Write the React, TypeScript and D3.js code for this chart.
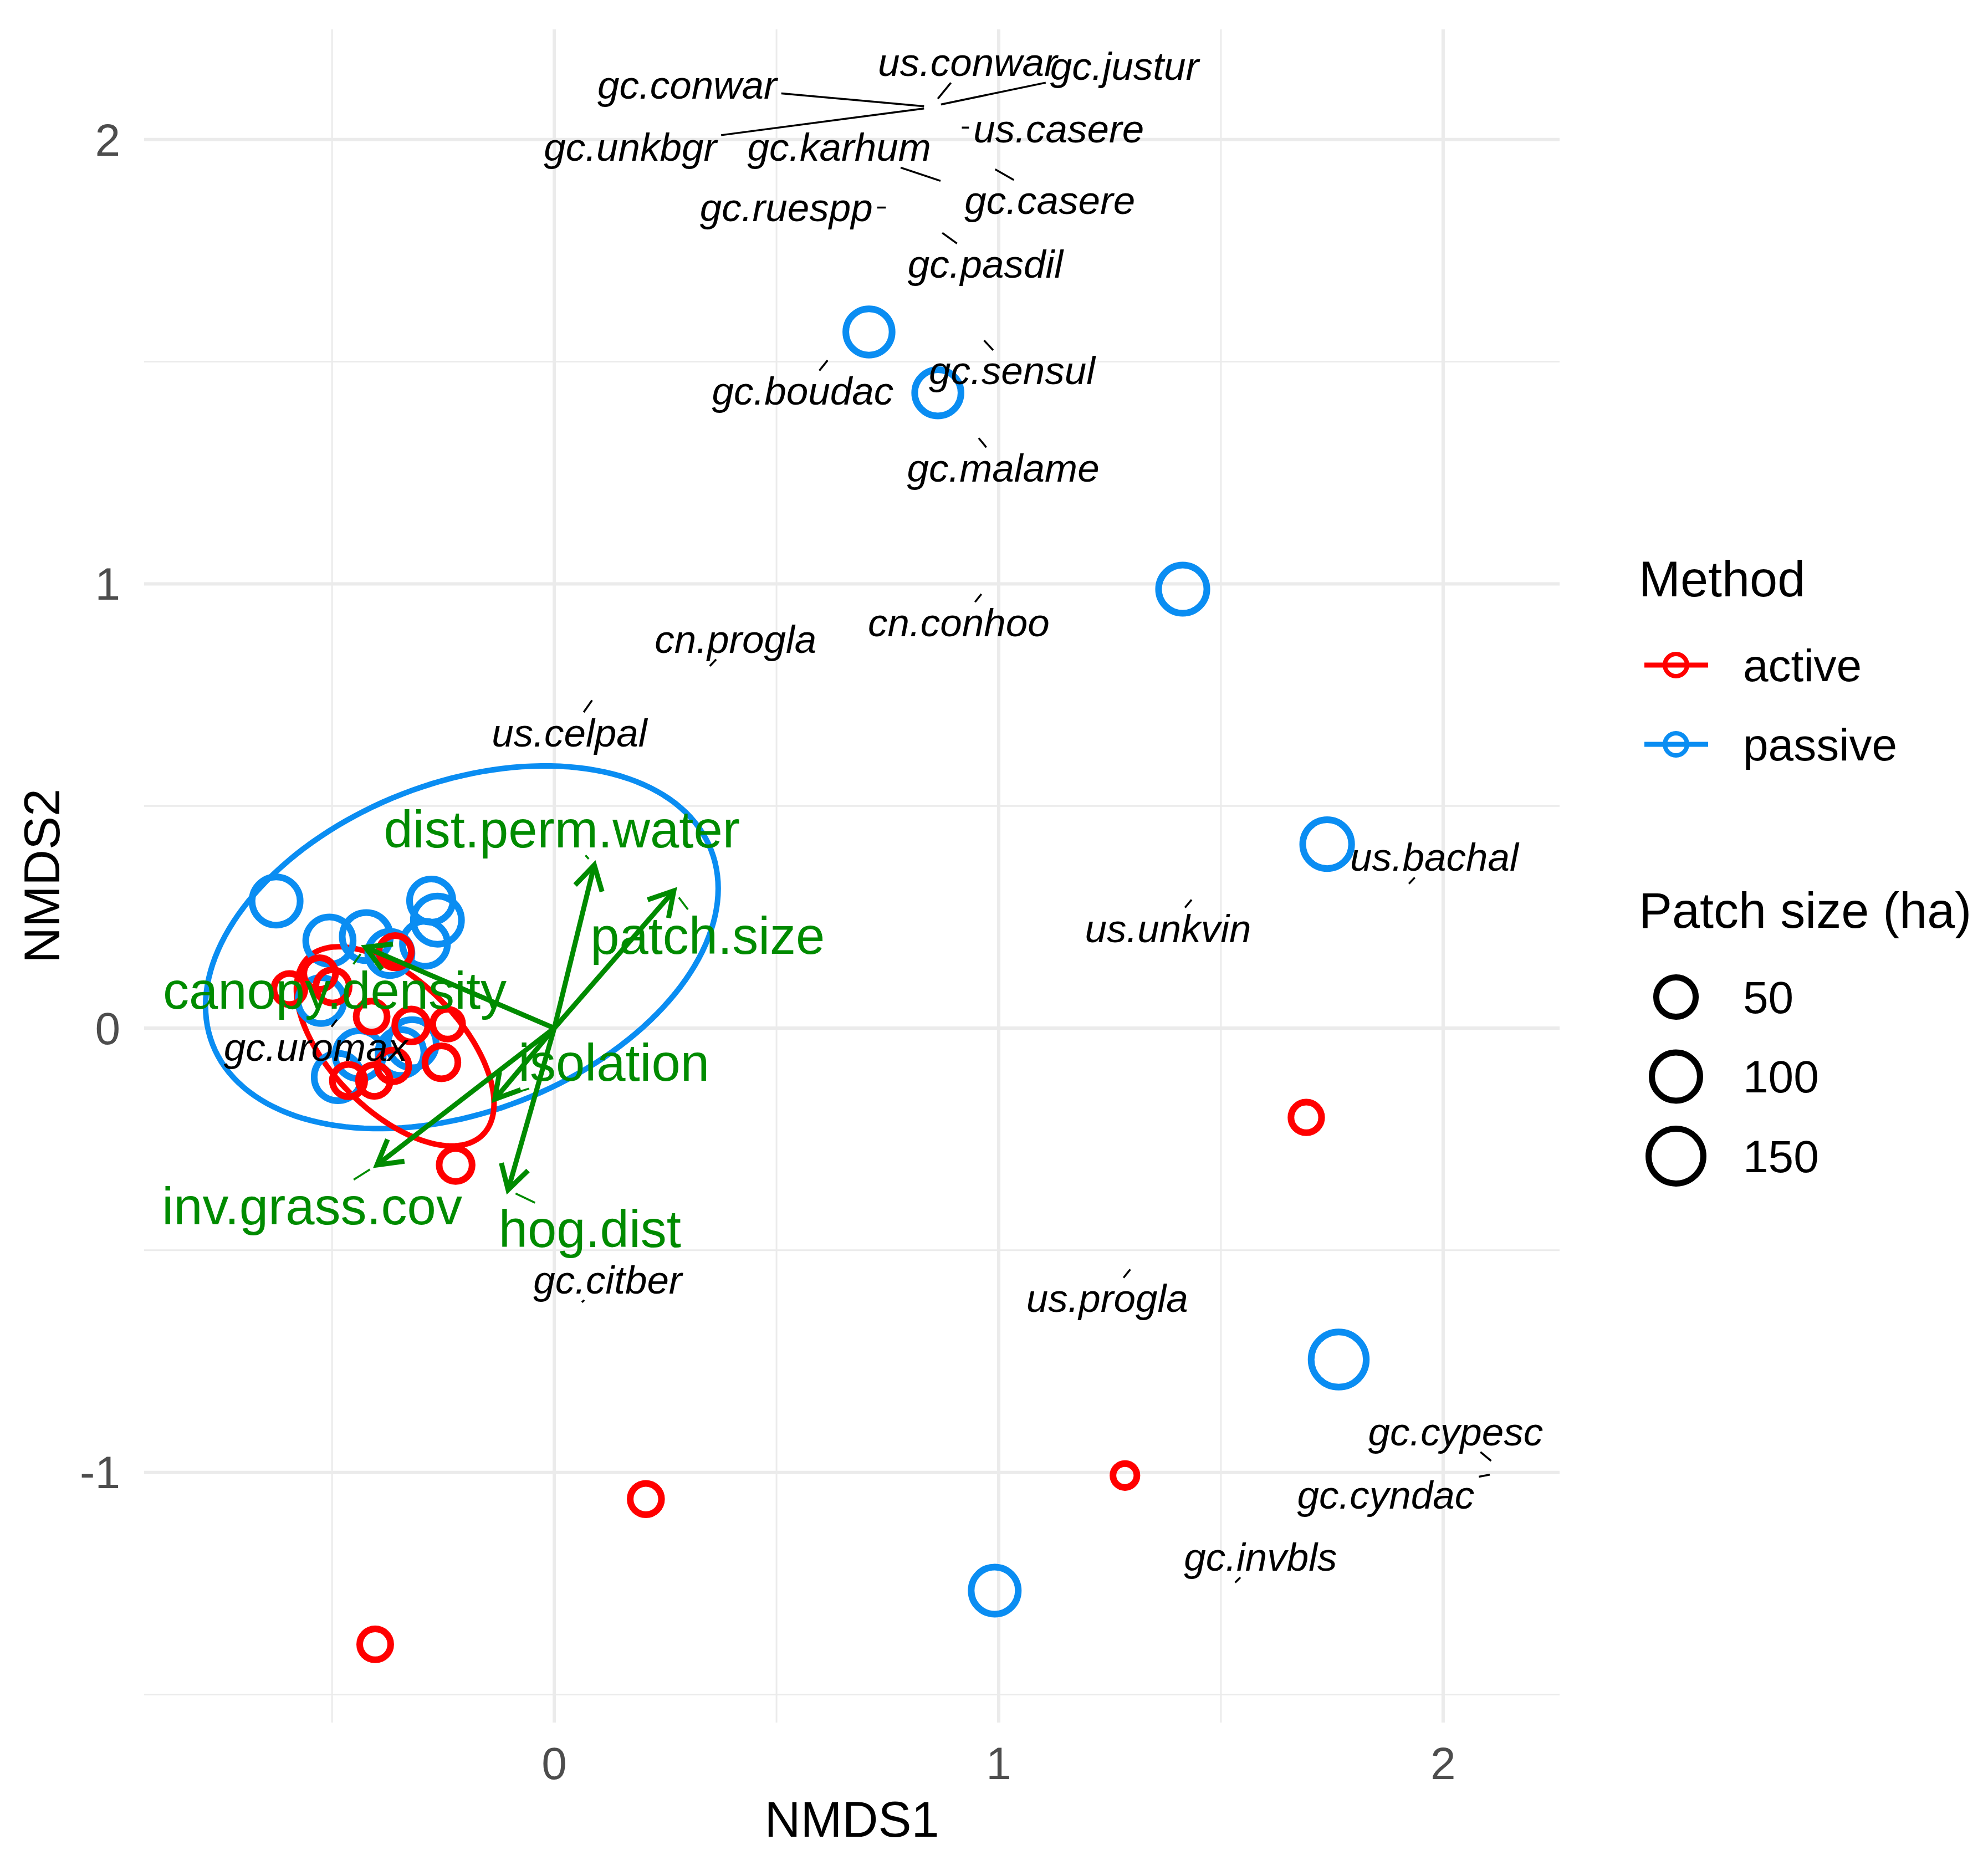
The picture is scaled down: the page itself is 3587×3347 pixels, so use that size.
import { useEffect } from 'react'
import * as d3 from 'd3'

const W = 3587
const H = 3347
const FONT = "'Liberation Sans', Arial, Helvetica, sans-serif"

// axis limits (NMDS units) and breaks
const xLimits = [-0.923, 2.262]
const yLimits = [-1.563, 2.248]
const majorBreaks = [-1, 0, 1, 2]
const minorBreaks = [-1.5, -0.5, 0.5, 1.5]

// sites, passive restoration
const passiveX = [0.708, 0.863, 1.414, 1.739, 1.765, 0.991, -0.626, -0.277, -0.263, -0.291, -0.506, -0.423, -0.370, -0.525, -0.320, -0.345, -0.439, -0.487]
const passiveY = [1.567, 1.430, 0.988, 0.414, -0.746, -1.266, 0.286, 0.287, 0.243, 0.190, 0.197, 0.206, 0.168, 0.062, -0.035, -0.055, -0.060, -0.110]
const passivePatch = [88, 88, 101, 105, 153, 93, 100, 70, 100, 80, 95, 100, 75, 85, 100, 85, 100, 95]

// sites, active restoration
const activeX = [1.692, 1.284, 0.206, -0.403, -0.222, -0.528, -0.596, -0.499, -0.358, -0.411, -0.322, -0.240, -0.254, -0.363, -0.405, -0.463]
const activeY = [-0.201, -1.007, -1.060, -1.387, -0.308, 0.123, 0.088, 0.094, 0.172, 0.026, 0.006, 0.009, -0.077, -0.085, -0.118, -0.118]
const activePatch = [17, 4, 19, 18, 24, 20, 18, 25, 22, 18, 24, 15, 24, 20, 20, 22]

// 95% ellipses per method
const ellipseMethod = ['passive', 'active']
const ellipseCx = [-0.208, -0.358]
const ellipseCy = [0.182, -0.041]
const ellipseA = [0.602, 0.280]
const ellipseB = [0.370, 0.146]
const ellipseAngle = [21.3, -45.4]

// species scores and repelled label positions
const speciesNames = ['us.conwar', 'gc.justur', 'gc.conwar', 'us.casere', 'gc.unkbgr', 'gc.karhum', 'gc.ruespp', 'gc.casere', 'gc.pasdil', 'gc.boudac', 'gc.sensul', 'gc.malame', 'cn.conhoo', 'cn.progla', 'us.celpal', 'us.bachal', 'us.unkvin', 'gc.uromax', 'gc.citber', 'us.progla', 'gc.cypesc', 'gc.cyndac', 'gc.invbls']
const speciesX = [0.863, 0.870, 0.832, 0.917, 0.832, 0.869, 0.746, 0.992, 0.873, 0.615, 0.967, 0.955, 0.961, 0.350, 0.085, 1.923, 1.434, -0.489, 0.062, 1.296, 2.108, 2.105, 1.532]
const speciesY = [2.092, 2.079, 2.075, 2.027, 2.070, 1.907, 1.847, 1.933, 1.790, 1.503, 1.548, 1.328, 0.977, 0.815, 0.738, 0.325, 0.289, 0.019, -0.617, -0.543, -0.974, -1.005, -1.248]
const speciesLabelX = [0.930, 1.283, 0.299, 1.135, 0.171, 0.641, 0.522, 1.115, 0.970, 0.559, 1.030, 1.010, 0.910, 0.408, 0.034, 1.980, 1.381, -0.537, 0.120, 1.244, 2.028, 1.871, 1.589]
const speciesLabelY = [2.174, 2.165, 2.123, 2.025, 1.983, 1.983, 1.848, 1.863, 1.720, 1.434, 1.480, 1.261, 0.913, 0.876, 0.665, 0.385, 0.225, -0.043, -0.566, -0.608, -0.908, -1.050, -1.190]

// environmental vectors (envfit)
const vectorNames = ['dist.perm.water', 'patch.size', 'canopy.density', 'isolation', 'inv.grass.cov', 'hog.dist']
const vectorX = [0.090, 0.269, -0.425, -0.134, -0.399, -0.104]
const vectorY = [0.367, 0.309, 0.182, -0.160, -0.308, -0.364]
const vectorLabelX = [0.017, 0.345, -0.494, 0.134, -0.545, 0.080]
const vectorLabelY = [0.448, 0.208, 0.085, -0.077, -0.400, -0.452]

// patch size legend
const sizeLimits = [1, 160]
const sizeBreaks = [50, 100, 150]

const methodColor: Record<string, string> = { active: '#FF0000', passive: '#0A8DF2' }
const GREEN = '#008B00'

const ctx = document.createElement('canvas').getContext('2d')!
function textWidth(s: string, font: string) {
  ctx.font = font
  return ctx.measureText(s).width
}

// repel segment: from the point towards the label centre, stopped at the padded label box
function segment(px: number, py: number, cx: number, cy: number, w: number, fs: number, trim = 0) {
  const hw = w / 2 + 8
  const hh = 0.45 * fs + 5
  const dx = px - cx
  const dy = py - cy
  const t = Math.min(dx === 0 ? Infinity : hw / Math.abs(dx), dy === 0 ? Infinity : hh / Math.abs(dy))
  if (t >= 1) return null
  const ex = cx + dx * t
  const ey = cy + dy * t
  const len = Math.hypot(px - ex, py - ey)
  if (len <= trim + 2) return null
  const k = trim / len
  return { x1: px + (ex - px) * k, y1: py + (ey - py) * k, x2: ex, y2: ey }
}

export default function App() {
  useEffect(() => {
    document.body.style.margin = '0'
  }, [])

  const x = d3.scaleLinear().domain(xLimits).range([260, 2814])
  const y = d3.scaleLinear().domain(yLimits).range([3108, 53])
  const rUnit = d3.scaleLinear().domain([0, 1]).range([17, 50.5])
  const size = (v: number) => rUnit(Math.sqrt((v - sizeLimits[0]) / (sizeLimits[1] - sizeLimits[0])))

  const inX = (v: number) => v >= xLimits[0] && v <= xLimits[1]
  const inY = (v: number) => v >= yLimits[0] && v <= yLimits[1]
  const xMajor = majorBreaks.filter(inX)
  const yMajor = majorBreaks.filter(inY)
  const xMinor = minorBreaks.filter(inX)
  const yMinor = minorBreaks.filter(inY)

  const line = d3.line<[number, number]>().curve(d3.curveLinearClosed)
  const ellipses = ellipseMethod.map((m, i) => {
    const th = (ellipseAngle[i] * Math.PI) / 180
    const pts = d3.range(160).map(k => {
      const t = (k / 160) * 2 * Math.PI
      const ex = ellipseCx[i] + ellipseA[i] * Math.cos(th) * Math.cos(t) - ellipseB[i] * Math.sin(th) * Math.sin(t)
      const ey = ellipseCy[i] + ellipseA[i] * Math.sin(th) * Math.cos(t) + ellipseB[i] * Math.cos(th) * Math.sin(t)
      return [x(ex), y(ey)] as [number, number]
    })
    return { m, d: line(pts) }
  })

  const spFont = `italic 71px ${FONT}`
  const vecFont = `94px ${FONT}`

  const speciesSegs = speciesNames.map((s, i) =>
    segment(x(speciesX[i]), y(speciesY[i]), x(speciesLabelX[i]), y(speciesLabelY[i]), textWidth(s, spFont), 71)
  )
  const vectorSegs = vectorNames.map((s, i) =>
    segment(x(vectorX[i]), y(vectorY[i]), x(vectorLabelX[i]), y(vectorLabelY[i]), textWidth(s, vecFont), 94, 15)
  )

  const arrowHead = (i: number) => {
    const tx = x(vectorX[i])
    const ty = y(vectorY[i])
    const ang = Math.atan2(ty - y(0), tx - x(0))
    const L = 50
    const a1 = ang + Math.PI - Math.PI / 6
    const a2 = ang + Math.PI + Math.PI / 6
    return `M${tx + L * Math.cos(a1)},${ty + L * Math.sin(a1)}L${tx},${ty}L${tx + L * Math.cos(a2)},${ty + L * Math.sin(a2)}`
  }

  const [px0, px1] = x.range()
  const [py0, py1] = y.range()

  return (
    <svg width={W} height={H} viewBox={`0 0 ${W} ${H}`} style={{ display: 'block', background: '#fff' }} fontFamily={FONT}>
      {/* grid */}
      <g stroke="#EBEBEB">
        {xMinor.map(v => <line key={'mx' + v} x1={x(v)} x2={x(v)} y1={py1} y2={py0} strokeWidth={3} />)}
        {yMinor.map(v => <line key={'my' + v} y1={y(v)} y2={y(v)} x1={px0} x2={px1} strokeWidth={3} />)}
        {xMajor.map(v => <line key={'Mx' + v} x1={x(v)} x2={x(v)} y1={py1} y2={py0} strokeWidth={6} />)}
        {yMajor.map(v => <line key={'My' + v} y1={y(v)} y2={y(v)} x1={px0} x2={px1} strokeWidth={6} />)}
      </g>

      {/* ellipses */}
      {ellipses.map(e => (
        <path key={e.m} d={e.d ?? ''} fill="none" stroke={methodColor[e.m]} strokeWidth={10} />
      ))}

      {/* sites */}
      <g fill="none" strokeWidth={12}>
        {passiveX.map((v, i) => (
          <circle key={'p' + i} cx={x(v)} cy={y(passiveY[i])} r={size(passivePatch[i])} stroke={methodColor.passive} />
        ))}
        {activeX.map((v, i) => (
          <circle key={'a' + i} cx={x(v)} cy={y(activeY[i])} r={size(activePatch[i])} stroke={methodColor.active} />
        ))}
      </g>

      {/* vectors */}
      <g stroke={GREEN} strokeWidth={9} fill="none">
        {vectorNames.map((n, i) => (
          <g key={n}>
            <line x1={x(0)} y1={y(0)} x2={x(vectorX[i])} y2={y(vectorY[i])} />
            <path d={arrowHead(i)} strokeLinejoin="miter" />
          </g>
        ))}
      </g>

      {/* species labels */}
      <g stroke="#000" strokeWidth={3.5}>
        {speciesSegs.map((s, i) => s && <line key={'ss' + i} x1={s.x1} y1={s.y1} x2={s.x2} y2={s.y2} />)}
      </g>
      <g fontStyle="italic" fontSize={71} fill="#000" textAnchor="middle">
        {speciesNames.map((s, i) => (
          <text key={s} x={x(speciesLabelX[i])} y={y(speciesLabelY[i])} dy="0.35em">{s}</text>
        ))}
      </g>

      {/* vector labels */}
      <g stroke={GREEN} strokeWidth={3.5}>
        {vectorSegs.map((s, i) => s && <line key={'vs' + i} x1={s.x1} y1={s.y1} x2={s.x2} y2={s.y2} />)}
      </g>
      <g fontSize={94} fill={GREEN} textAnchor="middle">
        {vectorNames.map((s, i) => (
          <text key={s} x={x(vectorLabelX[i])} y={y(vectorLabelY[i])} dy="0.35em">{s}</text>
        ))}
      </g>

      {/* axes */}
      <g fontSize={82} fill="#4D4D4D">
        {xMajor.map(v => (
          <text key={'xt' + v} x={x(v)} y={3210} textAnchor="middle">{v}</text>
        ))}
        {yMajor.map(v => (
          <text key={'yt' + v} x={217} y={y(v)} dy="0.35em" textAnchor="end">{v}</text>
        ))}
      </g>
      <text x={(px0 + px1) / 2} y={3314} fontSize={90} textAnchor="middle" fill="#000">NMDS1</text>
      <text transform={`translate(107,${(py0 + py1) / 2}) rotate(-90)`} fontSize={90} textAnchor="middle" fill="#000">NMDS2</text>

      {/* legend: method */}
      <text x={2957} y={1076} fontSize={90} fill="#000">Method</text>
      {['active', 'passive'].map((m, i) => {
        const cy = 1200 + i * 143
        return (
          <g key={m}>
            <line x1={2967} x2={3082} y1={cy} y2={cy} stroke={methodColor[m]} strokeWidth={9} />
            <circle cx={3024} cy={cy} r={20} fill="none" stroke={methodColor[m]} strokeWidth={8} />
            <text x={3145} y={cy} dy="0.35em" fontSize={82} fill="#000">{m}</text>
          </g>
        )
      })}

      {/* legend: patch size */}
      <text x={2957} y={1674} fontSize={90} fill="#000">Patch size (ha)</text>
      {sizeBreaks.map((v, i) => {
        const cy = 1799 + i * 143.5
        return (
          <g key={v}>
            <circle cx={3024} cy={cy} r={size(v)} fill="none" stroke="#000" strokeWidth={11} />
            <text x={3145} y={cy} dy="0.35em" fontSize={82} fill="#000">{v}</text>
          </g>
        )
      })}
    </svg>
  )
}
